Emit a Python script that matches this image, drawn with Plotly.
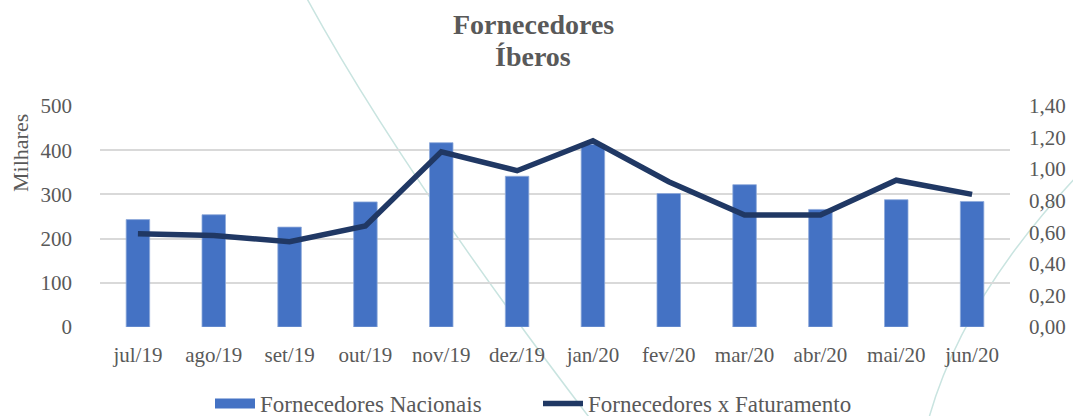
import plotly.graph_objects as go

categories = ["jul/19", "ago/19", "set/19", "out/19", "nov/19", "dez/19",
              "jan/20", "fev/20", "mar/20", "abr/20", "mai/20", "jun/20"]
nacionais = [243, 254, 226, 283, 417, 341, 413, 302, 322, 266, 288, 284]
faturamento = [0.59, 0.58, 0.54, 0.64, 1.11, 0.99, 1.18, 0.92, 0.71, 0.71, 0.93, 0.84]
left_ticks = [0, 100, 200, 300, 400, 500]
right_ticks = [0, 0.2, 0.4, 0.6, 0.8, 1.0, 1.2, 1.4]
right_labels = ["0,00", "0,20", "0,40", "0,60", "0,80", "1,00", "1,20", "1,40"]
title_lines = ["Fornecedores", "Íberos"]

FONT = "Liberation Serif"
GREY = "#595959"
BAR = "#4472C4"
LINE = "#203864"

W, H = 1073, 416
L, R, T, B = 100, 63, 106, 89
pw, ph = W - L - R, H - T - B

def px(x, y):
    return ((x - L) / pw, (H - B - y) / ph)

def path(points):
    (x0, y0) = px(*points[0])
    s = f"M{x0},{y0}"
    for i in range(1, len(points) - 1, 2):
        cx, cy = px(*points[i])
        ex, ey = px(*points[i + 1])
        s += f" Q{cx},{cy} {ex},{ey}"
    return s

fig = go.Figure()
fig.add_trace(go.Bar(
    x=categories, y=nacionais, name="Fornecedores Nacionais",
    marker=dict(color=BAR, line=dict(color="#8EA9DB", width=0.8)),
    width=0.31, yaxis="y", showlegend=False))
# legend-only entry so the swatch is a wide rectangle like the reference
fig.add_trace(go.Scatter(
    x=[None], y=[None], name="Fornecedores Nacionais", mode="lines",
    line=dict(color=BAR, width=13), yaxis="y"))
fig.add_trace(go.Scatter(
    x=categories, y=faturamento, name="Fornecedores x Faturamento",
    mode="lines", line=dict(color=LINE, width=5.5), yaxis="y2"))

shapes = [
    dict(type="path", xref="paper", yref="paper", layer="below",
         path=path([(305, -5), (400, 170), (595, 425)]),
         line=dict(color="#c9e4e0", width=1.5)),
    dict(type="path", xref="paper", yref="paper", layer="below",
         path=path([(1078, 175), (960, 300), (927, 425)]),
         line=dict(color="#c9e4e0", width=1.5)),
]

ann = []
for txt, yy in zip(title_lines, [24, 57]):
    xx, yp = px(533, yy)
    ann.append(dict(text=f"<b>{txt}</b>", xref="paper", yref="paper", x=xx, y=yp,
                    showarrow=False, xanchor="center", yanchor="middle",
                    font=dict(family=FONT, size=28, color=GREY)))
mx, my = px(20, 153)
ann.append(dict(text="Milhares", xref="paper", yref="paper", x=mx, y=my,
                textangle=-90, showarrow=False, xanchor="center", yanchor="middle",
                font=dict(family=FONT, size=22, color=GREY)))

fig.update_layout(
    width=W, height=H,
    margin=dict(l=L, r=R, t=T, b=B, autoexpand=False),
    paper_bgcolor="white", plot_bgcolor="rgba(0,0,0,0)",
    font=dict(family=FONT, color=GREY, size=21),
    showlegend=True,
    legend=dict(orientation="h", x=px(538, 0)[0], xanchor="center",
                y=px(0, 382)[1], yanchor="top",
                font=dict(family=FONT, size=23, color=GREY),
                bgcolor="rgba(0,0,0,0)", itemwidth=40, tracegroupgap=0,
                entrywidth=273, entrywidthmode="pixels"),
    xaxis=dict(showgrid=False, showline=False, ticks="", tickfont=dict(size=21),
               ticklabelstandoff=13),
    yaxis=dict(range=[0, 500], tickvals=left_ticks, showgrid=True,
               gridcolor="#d9d9d9", gridwidth=1.5, zeroline=False, showline=False,
               ticks="", tickfont=dict(size=21), ticklabelstandoff=27),
    yaxis2=dict(range=[0, 1.4], tickvals=right_ticks, ticktext=right_labels,
                overlaying="y", side="right", showgrid=False, zeroline=False,
                showline=False, ticks="", tickfont=dict(size=21),
                ticklabelstandoff=18),
    shapes=shapes,
    annotations=ann,
)

fig.write_html("out.html", config={"displayModeBar": False},
               post_script="document.body.style.margin='0';")
